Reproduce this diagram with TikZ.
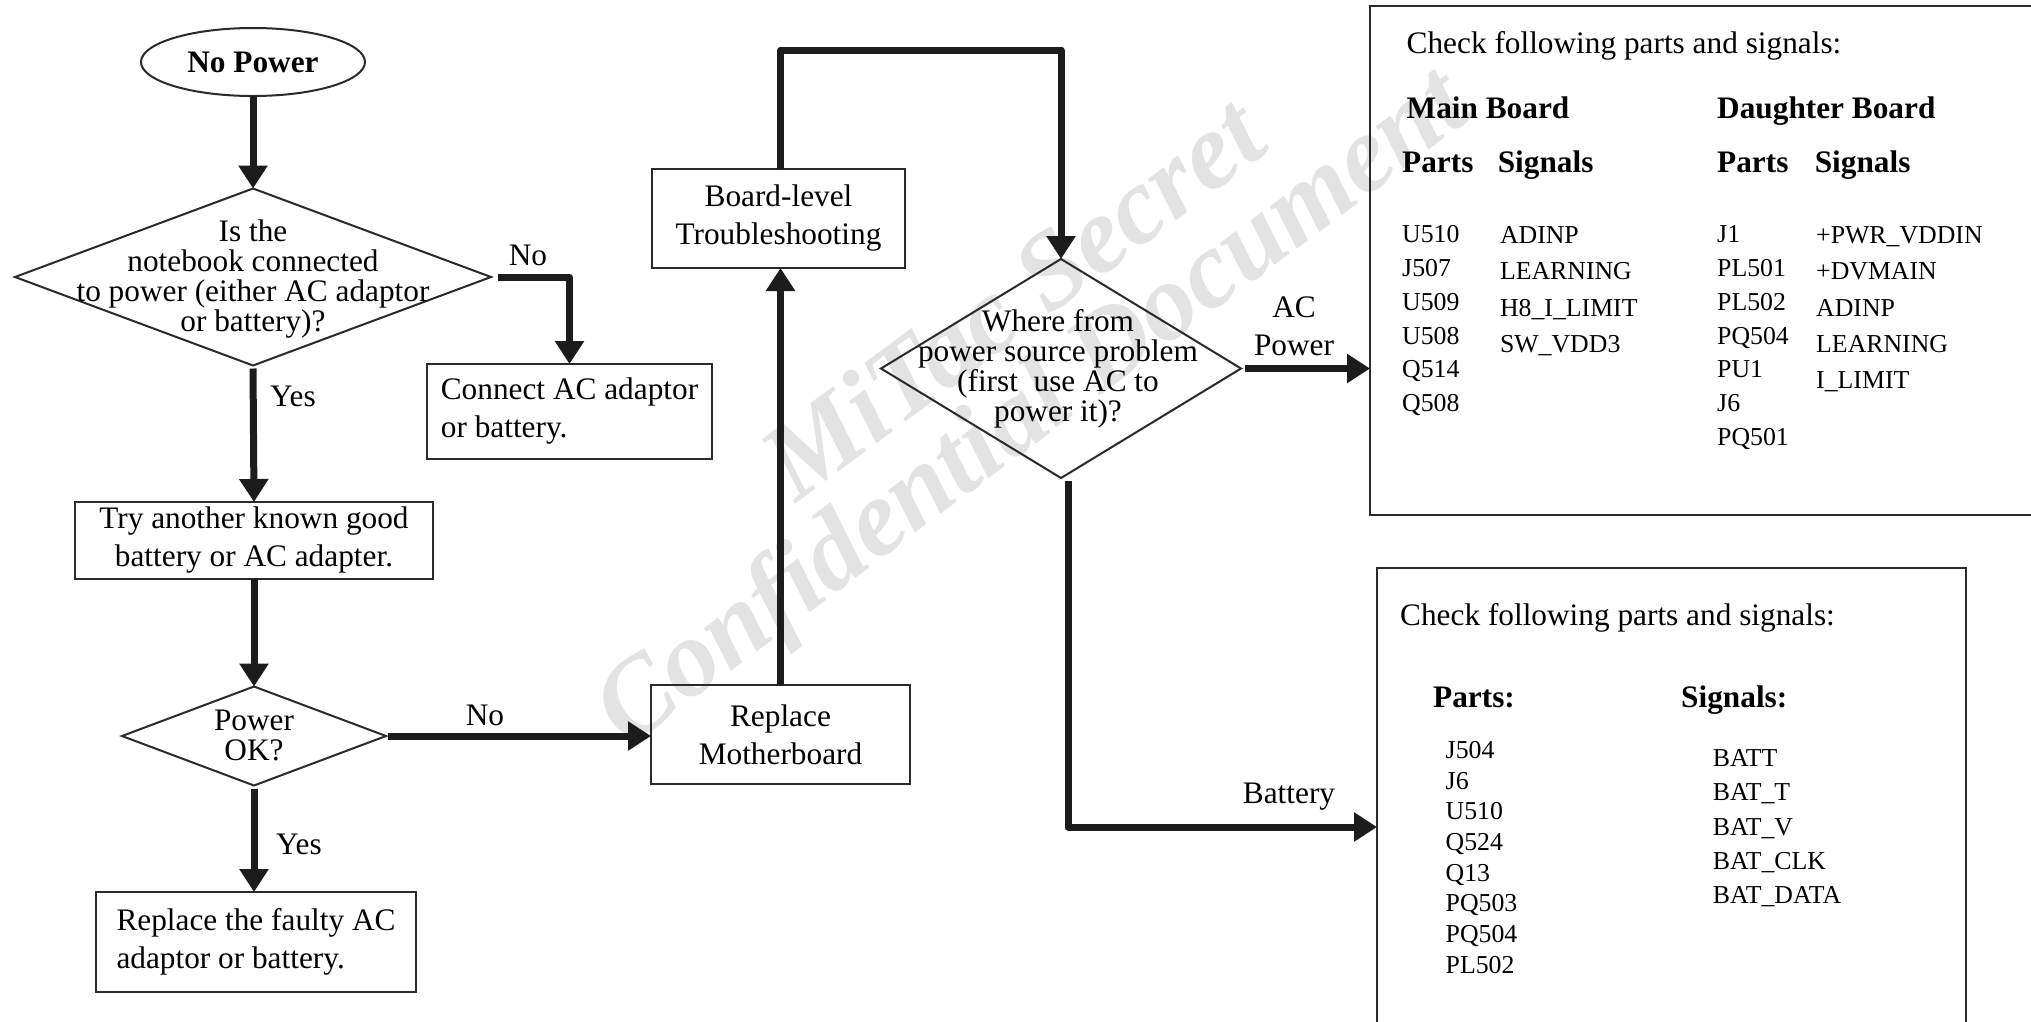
\documentclass[tikz,border=0pt]{standalone}
\usepackage{fontspec}
\setmainfont{Liberation Serif}
\usetikzlibrary{shapes.geometric,arrows.meta}
\newcommand{\fcfont}{\fontsize{31.3}{38}\selectfont}
\newcommand{\dtext}{\fontsize{31.3}{30}\selectfont\lineskiplimit=-100pt\relax}
\newcommand{\lstfont}{\fontsize{25.8}{30}\selectfont}
\definecolor{ink}{HTML}{1C1C1C}
\definecolor{edge}{HTML}{2A2A2A}
\definecolor{wmgray}{HTML}{E3E3E3}
\begin{document}
\begin{tikzpicture}[x=1pt,y=-1pt,
  ln/.style={draw=edge, line width=2pt},
  box/.style={ln, rectangle, inner sep=0pt, outer sep=0pt},
  dia/.style={ln, diamond, inner sep=0pt, outer sep=0pt},
  fc/.style={font=\fcfont, align=center, inner sep=0pt},
  fcd/.style={font=\dtext, align=center, inner sep=0pt},
  lbl/.style={font=\fcfont, inner sep=0pt},
  ck/.style={font=\fcfont, inner sep=0pt, anchor=base west},
  hd/.style={font=\fcfont\bfseries, inner sep=0pt, anchor=base west},
  lst/.style={font=\lstfont, inner sep=0pt, anchor=base west},
  arr/.style={draw=ink, line width=7pt, line join=round, -{Triangle[length=23pt,width=28pt]}},
  wm/.style={text=wmgray, font=\fontsize{109}{140}\selectfont\bfseries\itshape, rotate=36.7, inner sep=0pt}
]
\fill[white] (0,0) rectangle (2031,1021);
\useasboundingbox (0,0) rectangle (2031,1021);

% watermark
\node[wm] (wm1) at (1012,297) {MiTac Secret};
\node[wm] (wm2) at (1035,411) {Confidential Document};

% left flow
\node[ln, ellipse, minimum width=224pt, minimum height=68pt, inner sep=0pt, outer sep=0pt, font=\fcfont\bfseries] (start) at (253,62) {No Power};
\node[dia, minimum width=476pt, minimum height=177pt] (d1) at (253,277) {};
\node[fcd] (d1t) at (253,279) {Is the\\notebook connected\\to power (either AC adaptor\\or battery)?};
\node[box, minimum width=285pt, minimum height=95pt, fc, align=left] (conn) at (569.5,411.5) {Connect AC adaptor\\or battery.};
\node[box, minimum width=358pt, minimum height=77pt, fc] (try) at (254,540.5) {Try another known good\\battery or AC adapter.};
\node[dia, minimum width=264pt, minimum height=99pt] (d2) at (254,736) {};
\node[fcd] (d2t) at (254,735) {Power\\OK?};
\node[box, minimum width=320pt, minimum height=100pt, fc, align=left] (faulty) at (256,942) {Replace the faulty AC\\adaptor or battery.};

% middle
\node[box, minimum width=259pt, minimum height=99pt, fc] (mobo) at (780.5,734.5) {Replace\\Motherboard};
\node[box, minimum width=253pt, minimum height=99pt, fc] (board) at (778.5,218.5) {Board-level\\Troubleshooting};
\node[dia, minimum width=360pt, minimum height=219pt] (d3) at (1061,368.5) {};
\node[fcd] (d3t) at (1058,368.5) {Where from\\power source problem\\(first\ \ use AC to\\power it)?};

% right boxes
\node[box, minimum width=690pt, minimum height=509pt] (acbox) at (1715,260.5) {};
\node[box, minimum width=589pt, minimum height=472pt] (batbox) at (1671.5,804) {};

% connectors
\draw[arr] (start.south) -- (d1.north);
\draw[arr, shorten <=7pt] (d1.east) -| (conn.north);
\node[lbl] (no1) at (528,255) {No};
\draw[arr, shorten <=3pt] (d1.south) -- (try.north);
\node[lbl] (yes1) at (293,396) {Yes};
\draw[arr] (try.south) -- (d2.north);
\draw[arr, shorten <=2pt] (d2.east) -- (d2.east -| mobo.west);
\node[lbl] (no2) at (485,715) {No};
\draw[arr, shorten <=3pt] (d2.south) -- (d2.south |- faulty.north);
\node[lbl] (yes2) at (299,844) {Yes};
\draw[arr] (mobo.north) -- (mobo.north |- board.south);
\coordinate (loopc) at (900,50);
\draw[arr] (mobo.north |- board.north) |- (loopc) -| (d3.north);
\draw[arr, shorten <=4pt] (d3.east) -- (d3.east -| acbox.west);
\node[fc] (acl) at (1294,326) {AC\\Power};
\coordinate (battY) at (1068,827);
\draw[arr, shorten <=3pt] ([xshift=7pt]d3.south) |- (battY -| batbox.west);
\node[lbl] (battl) at (1289,797) {Battery};

% AC box text
\node[ck] (c1) at (1406.5,53) {Check following parts and signals:};
\node[hd] (mb) at (1406.5,118) {Main Board};
\node[hd] (db) at (1717,118) {Daughter Board};
\node[hd] (p1) at (1402,172.5) {Parts};
\node[hd] (s1) at (1497.6,172.5) {Signals};
\node[hd] (p2) at (1717,172.5) {Parts};
\node[hd] (s2) at (1814.6,172.5) {Signals};
\foreach \t [count=\i from 0] in {U510,J507,U509,U508,Q514,Q508}
  \node[lst] (mp\i) at (1402,{242.6+33.8*\i}) {\t};
\foreach \t [count=\i from 0] in {ADINP,LEARNING,H8\_I\_LIMIT,SW\_VDD3}
  \node[lst] (ms\i) at (1499.8,{243.6+36.3*\i}) {\t};
\foreach \t [count=\i from 0] in {J1,PL501,PL502,PQ504,PU1,J6,PQ501}
  \node[lst] (dp\i) at (1717,{242.6+33.8*\i}) {\t};
\foreach \t [count=\i from 0] in {+PWR\_VDDIN,+DVMAIN,ADINP,LEARNING,I\_LIMIT}
  \node[lst] (ds\i) at (1816,{243.6+36.3*\i}) {\t};

% Battery box text
\node[ck] (c2) at (1400,625) {Check following parts and signals:};
\node[hd] (bp) at (1433,707) {Parts:};
\node[hd] (bs) at (1681,707) {Signals:};
\foreach \t [count=\i from 0] in {J504,J6,U510,Q524,Q13,PQ503,PQ504,PL502}
  \node[lst] (bpi\i) at (1445.5,{758.3+30.7*\i}) {\t};
\foreach \t [count=\i from 0] in {BATT,BAT\_T,BAT\_V,BAT\_CLK,BAT\_DATA}
  \node[lst] (bsi\i) at (1712.6,{766.7+34.15*\i}) {\t};
\end{tikzpicture}
\end{document}
